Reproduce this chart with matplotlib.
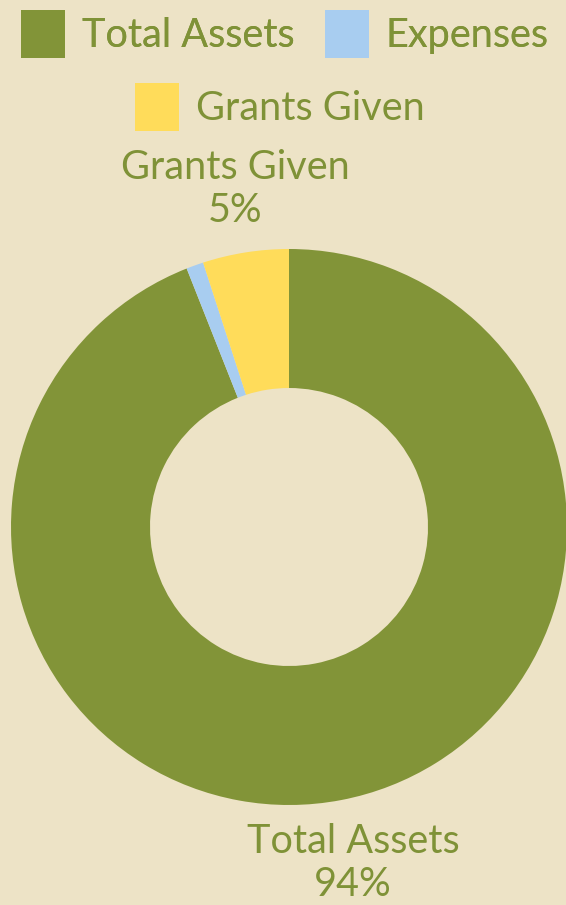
import numpy as np
import matplotlib.pyplot as plt

names = ["Total Assets", "Expenses", "Grants Given"]
values = [94, 1, 5]
colors = ["#829438", "#a8cdf0", "#ffdc5a"]
label_text = ["Total Assets\n94%", "", "Grants Given\n5%"]

bg = "#ede3c6"
txt = "#7f9237"
fs = 28.5
plt.rcParams['font.family'] = ['Lato', 'DejaVu Sans']

fig = plt.figure(figsize=(5.66, 9.05), dpi=100, facecolor=bg)
W, H = 566, 905
cx, cy, r = 289, 527, 278
ax = fig.add_axes([(cx - r) / W, (H - cy - r) / H, 2 * r / W, 2 * r / H])
ax.set_facecolor(bg)

wedges, _ = ax.pie(values, colors=colors, startangle=90, counterclock=False,
                   radius=1, wedgeprops=dict(width=0.5, linewidth=0))
ax.set_xlim(-1, 1)
ax.set_ylim(-1, 1)
ax.set_aspect('equal')
ax.axis('off')

for w, lab in zip(wedges, label_text):
    if not lab:
        continue
    mid = np.deg2rad((w.theta1 + w.theta2) / 2)
    ax.text(1.23 * np.cos(mid), 1.23 * np.sin(mid), lab, ha='center', va='center',
            fontsize=fs, color=txt, linespacing=1.2, clip_on=False)

leg1 = fig.legend(wedges[:2], names[:2], loc='center', bbox_to_anchor=(285 / W, 1 - 34 / H),
                  ncol=2, frameon=False, fontsize=fs, labelcolor=txt,
                  handlelength=1.11, handleheight=1.45, handletextpad=0.43,
                  columnspacing=0.76, borderpad=0, borderaxespad=0)
fig.legend(wedges[2:], names[2:], loc='center', bbox_to_anchor=(280 / W, 1 - 107 / H),
           frameon=False, fontsize=fs, labelcolor=txt,
           handlelength=1.11, handleheight=1.45, handletextpad=0.43,
           borderpad=0, borderaxespad=0)
fig.add_artist(leg1)

fig.savefig("out.png", dpi=100, facecolor=bg)
